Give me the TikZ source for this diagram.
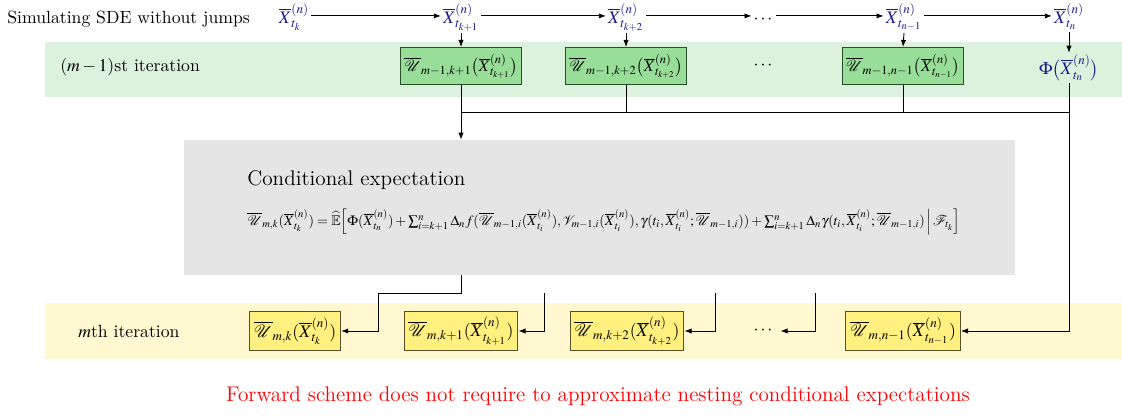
\documentclass[tikz,border=0pt]{standalone}
\usepackage{amsmath,amssymb}
\usepackage{mathptmx}
\usepackage{mathrsfs}
\renewcommand{\rmdefault}{lmr}
\usetikzlibrary{arrows.meta}
\definecolor{bandgreen}{RGB}{221,242,221}
\definecolor{boxgreen}{RGB}{152,222,152}
\definecolor{edgegreen}{RGB}{40,80,40}
\definecolor{bandyellow}{RGB}{255,248,208}
\definecolor{boxyellow}{RGB}{255,240,128}
\definecolor{edgeyellow}{RGB}{90,80,40}
\definecolor{cegray}{RGB}{229,229,229}
\definecolor{xblue}{RGB}{25,25,140}
\def\u{0.566pt}
\newcommand{\Xb}[1]{\overline{X}^{(n)}_{#1}}
\newcommand{\Ub}{\overline{\mathscr{U}}}
\tikzset{
  gbox/.style={draw=edgegreen, fill=boxgreen, line width=0.6pt, inner sep=2pt, minimum height=37*\u, font=\small},
  ybox/.style={draw=edgeyellow, fill=boxyellow, line width=0.6pt, inner sep=2.5pt, minimum height=39*\u},
  xlab/.style={text=xblue, anchor=base, inner sep=1pt},
  arr/.style={-{Latex[length=4pt,width=3pt]}, line width=0.5pt},
  conn/.style={line width=0.5pt},
  lbl/.style={anchor=west, inner sep=0pt}
}
\begin{document}
\begin{tikzpicture}[x=0.566pt, y=-0.566pt]
\useasboundingbox (0,0) rectangle (1122,417);
% bands
\fill[bandgreen] (45,42) rectangle (1122,97);
\fill[bandyellow] (45,303) rectangle (1122,359);
% conditional expectation box
\node[fill=cegray, minimum width=831*\u, minimum height=135*\u, inner sep=0pt] (ce) at (599.5,207.5) {};
\node[lbl, font=\large] (cet) at (247,180) {Conditional expectation};
\node[lbl, font=\footnotesize] (form) at (247,222) {$\Ub_{m,k}(\Xb{t_k}) = \widehat{\mathbb{E}}\Big[\Phi(\Xb{t_n}) + \sum_{i=k+1}^{n}\Delta_n f(\Ub_{m-1,i}(\Xb{t_i}),\mathscr{V}_{m-1,i}(\Xb{t_i}),\gamma(t_i,\Xb{t_i};\Ub_{m-1,i})) + \sum_{i=k+1}^{n}\Delta_n\gamma(t_i,\Xb{t_i};\Ub_{m-1,i})\,\Big|\,\mathscr{F}_{t_k}\Big]$};
% top row
\node[lbl, anchor=base west] (sde) at (7,23) {Simulating SDE without jumps};
\node[xlab] (x0) at (294,23) {$\Xb{t_k}$};
\node[xlab] (x1) at (461,23) {$\Xb{t_{k+1}}$};
\node[xlab] (x2) at (626,23) {$\Xb{t_{k+2}}$};
\node[xlab, text=black] (xd) at (764,23) {$\cdots$};
\node[xlab] (x3) at (904,23) {$\Xb{t_{n-1}}$};
\node[xlab] (x4) at (1069,23) {$\Xb{t_n}$};
\draw[arr] ([yshift=4pt]x0.base east) -- ([yshift=4pt]x1.base west);
\draw[arr] ([yshift=4pt]x1.base east) -- ([yshift=4pt]x2.base west);
\draw[arr] ([yshift=4pt]x2.base east) -- ([yshift=4pt]xd.base west);
\draw[arr] ([yshift=4pt]xd.base east) -- ([yshift=4pt]x3.base west);
\draw[arr] ([yshift=4pt]x3.base east) -- ([yshift=4pt]x4.base west);
% (m-1)st iteration
\node[lbl] (itm1) at (60,67) {$(m-1)$st iteration};
\node[gbox] (g1) at (461,66) {$\Ub_{m-1,k+1}\big(\Xb{t_{k+1}}\big)$};
\node[gbox] (g2) at (626,66) {$\Ub_{m-1,k+2}\big(\Xb{t_{k+2}}\big)$};
\node (gd) at (764,66) {$\cdots$};
\node[gbox] (g3) at (903,66) {$\Ub_{m-1,n-1}\big(\Xb{t_{n-1}}\big)$};
\node[text=xblue, inner sep=1pt] (phi) at (1069,68) {$\Phi\big(\Xb{t_n}\big)$};
\draw[arr] (x1.south) -- (g1.north);
\draw[arr] (x2.south) -- (g2.north);
\draw[arr] (x3.south) -- (g3.north);
\draw[arr] (x4.south) -- (phi.north);
% gathering
\coordinate (h) at (0,112);
\draw[arr] (g1.south) -- (g1.south |- ce.north);
\draw[conn] (g2.south) -- (g2.south |- h);
\draw[conn] (g3.south) -- (g3.south |- h);
\draw[conn] (g1.south |- h) -- (phi.south |- h);
% m-th iteration
\node[lbl] (itm) at (78,331) {$m$th iteration};
\node[ybox] (y1) at (295,331) {$\Ub_{m,k}(\Xb{t_k})$};
\node[ybox] (y2) at (461,331) {$\Ub_{m,k+1}(\Xb{t_{k+1}})$};
\node[ybox] (y3) at (627,331) {$\Ub_{m,k+2}(\Xb{t_{k+2}})$};
\node (yd) at (764,331) {$\cdots$};
\node[ybox] (y4) at (903,331) {$\Ub_{m,n-1}(\Xb{t_{n-1}})$};
\coordinate (k1) at (378,293);
\coordinate (k2) at (544,293);
\coordinate (k3) at (715,293);
\coordinate (k4) at (815,293);
\draw[arr] (g1.south |- ce.south) |- (k1) |- (y1.east);
\draw[arr] (k2) |- (y2.east);
\draw[arr] (k3) |- (y3.east);
\draw[arr] (k4) |- (yd.east);
\draw[arr] (phi.south) |- (y4.east);
% footer
\node[text=red, font=\large] (foot) at (598,396) {Forward scheme does not require to approximate nesting conditional expectations};
\end{tikzpicture}
\end{document}
